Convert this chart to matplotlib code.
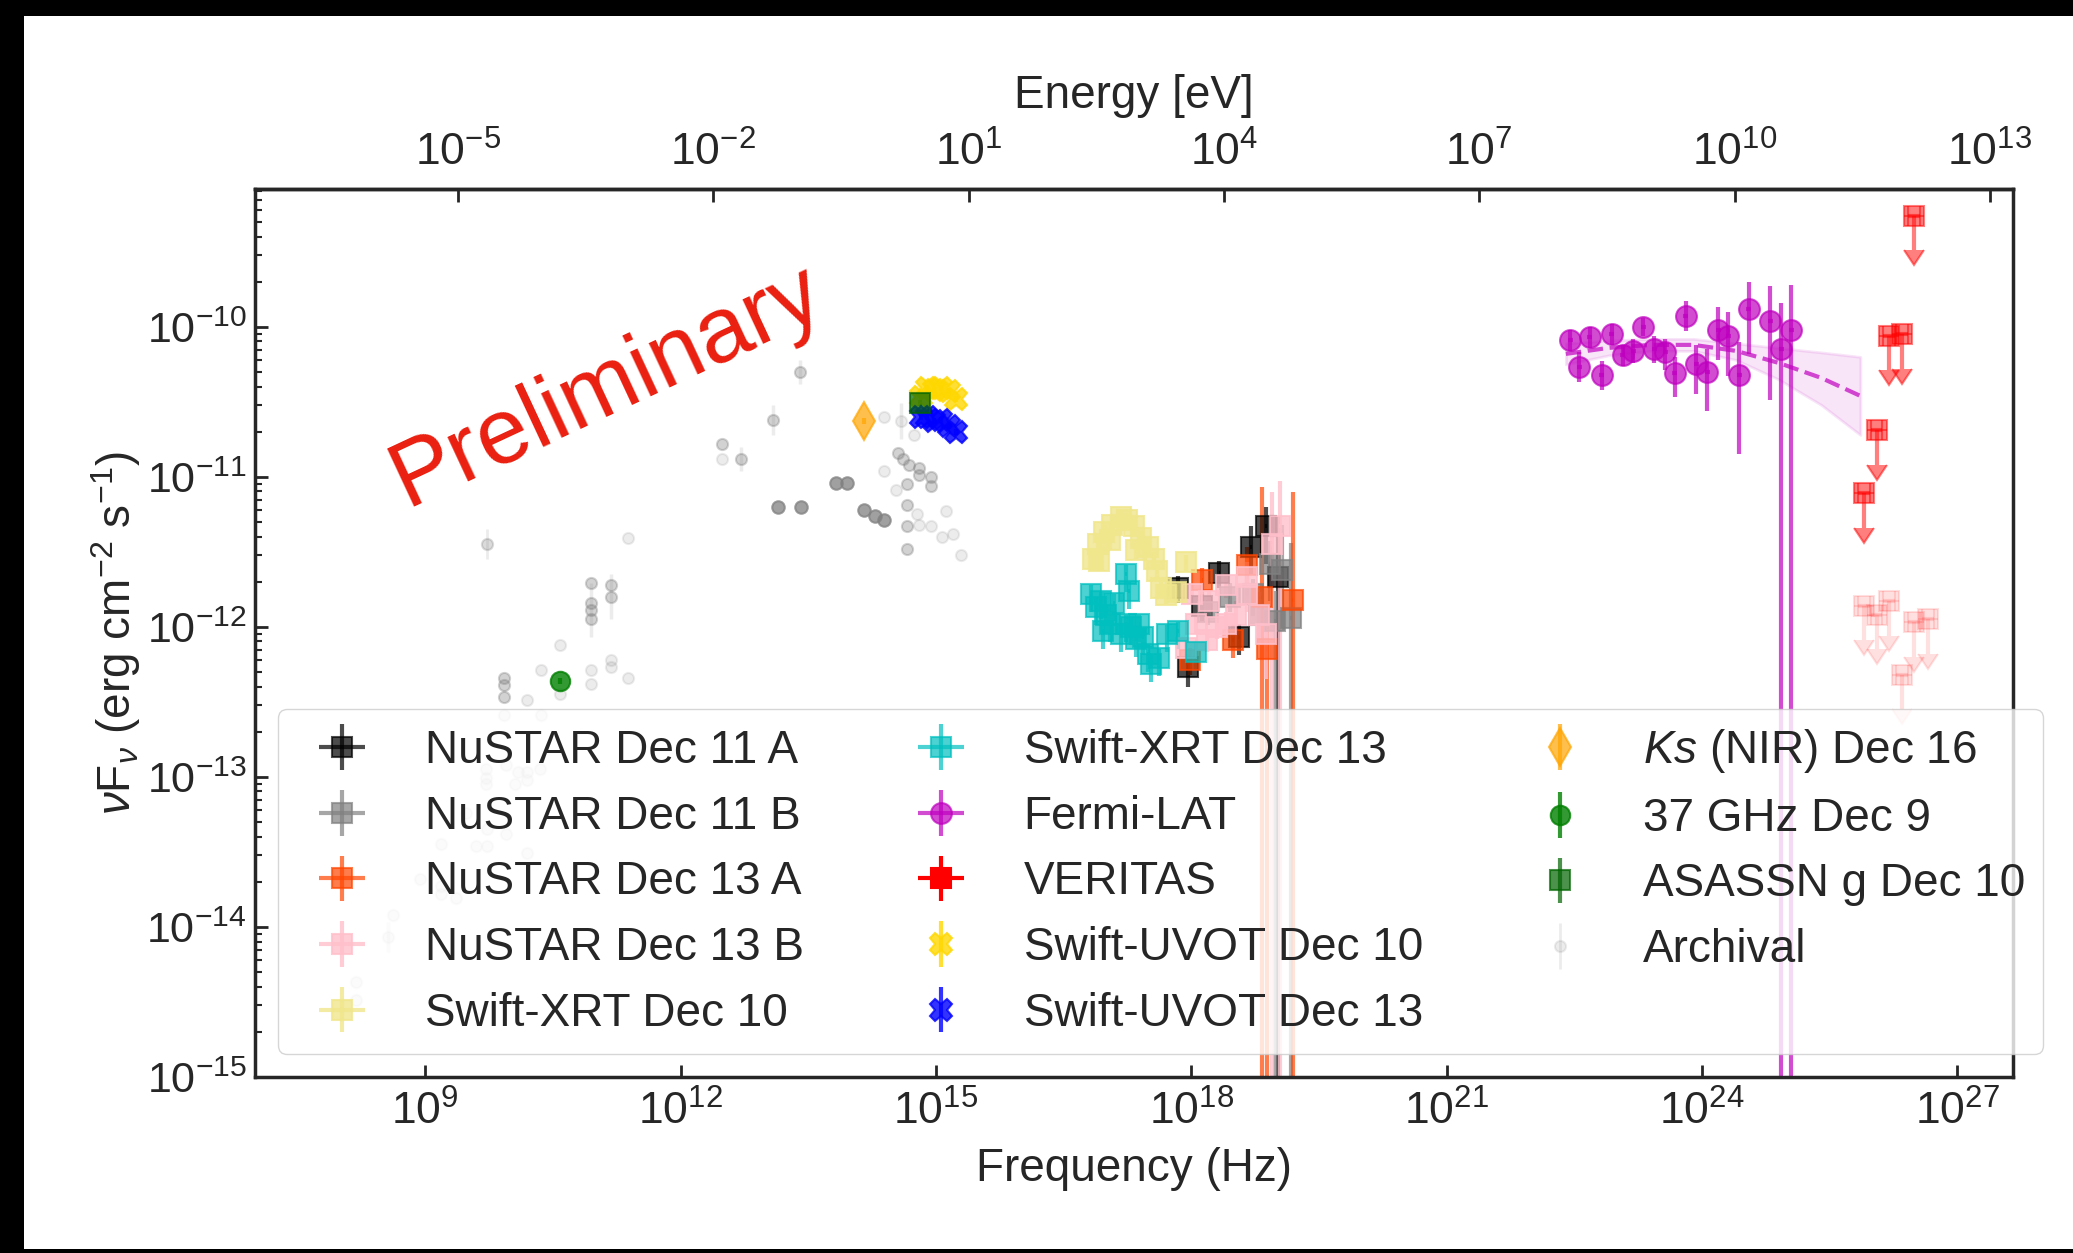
import numpy as np
import matplotlib.pyplot as plt
from matplotlib.patches import Rectangle
from matplotlib.ticker import NullLocator, LogLocator

plt.rcParams['font.family'] = ['Liberation Sans', 'DejaVu Sans']
plt.rcParams['mathtext.fontset'] = 'custom'
plt.rcParams['mathtext.rm'] = 'Liberation Sans'
plt.rcParams['mathtext.it'] = 'Liberation Sans:italic'
plt.rcParams['mathtext.bf'] = 'Liberation Sans:bold'
for k in ['text.color', 'axes.labelcolor', 'xtick.color', 'ytick.color']:
    plt.rcParams[k] = '0.15'

H_EV = 4.135667e-15  # eV s

# all values are log10(nu / Hz) and log10(nuFnu / erg cm-2 s-1); errors in dex
nu11a_lx = [17.84, 17.96, 18.13, 18.33, 18.56, 18.70, 18.88, 19.02]
nu11a_ly = [-11.74, -12.27, -11.86, -11.64, -12.07, -11.47, -11.33, -11.67]
nu11a_up = [0.08, 0.09, 0.08, 0.08, 0.09, 0.14, 0.13, 0.40]
nu11a_lo = [0.10, 0.13, 0.10, 0.10, 0.12, 0.18, 0.25, 5]

nu11b_lx = [18.20, 18.45, 18.72, 18.80, 18.92, 18.98, 19.07, 19.17]
nu11b_ly = [-11.90, -11.80, -11.78, -11.92, -11.58, -11.96, -11.62, -11.94]
nu11b_up = [0.08, 0.09, 0.10, 0.12, 0.15, 0.20, 0.30, 0.50]
nu11b_lo = [0.09, 0.10, 0.15, 0.20, 0.25, 5, 0.40, 5]

nu13a_lx = [17.98, 18.13, 18.49, 18.66, 18.83, 18.89, 19.19]
nu13a_ly = [-12.22, -11.69, -12.09, -11.59, -11.80, -12.15, -11.82]
nu13a_up = [0.08, 0.08, 0.10, 0.12, 0.73, 0.30, 0.72]
nu13a_lo = [0.10, 0.10, 0.12, 0.15, 5, 5, 5]

nu13b_lx = [17.94, 18.01, 18.06, 18.18, 18.21, 18.30, 18.41, 18.41, 18.53,
            18.65, 18.65, 18.80, 18.88, 18.95, 19.04]
nu13b_ly = [-12.14, -11.78, -11.98, -12.09, -11.83, -12.00, -11.72, -11.98, -11.92,
            -11.67, -11.78, -11.92, -12.05, -11.45, -11.33]
nu13b_up = [0.06, 0.06, 0.06, 0.07, 0.07, 0.07, 0.08, 0.08, 0.09,
            0.10, 0.10, 0.15, 0.20, 0.35, 0.30]
nu13b_lo = [0.07, 0.07, 0.07, 0.08, 0.08, 0.08, 0.09, 0.09, 0.10,
            0.12, 0.12, 0.20, 0.30, 5, 5]

xrt10_lx = [16.84, 16.90, 16.92, 16.98, 17.04, 17.07, 17.17, 17.25, 17.33, 17.35,
            17.41, 17.49, 17.56, 17.60, 17.64, 17.70, 17.82, 17.94]
xrt10_ly = [-11.55, -11.45, -11.56, -11.37, -11.42, -11.32, -11.27, -11.29, -11.33, -11.49,
            -11.41, -11.47, -11.55, -11.63, -11.74, -11.79, -11.77, -11.57]

xrt13_lx = [16.82, 16.88, 16.94, 16.96, 17.00, 17.04, 17.09, 17.17, 17.23, 17.23, 17.27,
            17.29, 17.35, 17.39, 17.43, 17.49, 17.53, 17.62, 17.72, 17.84, 18.06]
xrt13_ly = [-11.78, -11.87, -11.83, -12.03, -11.92, -11.98, -11.84, -12.05, -11.65, -11.98, -11.76,
            -12.00, -12.08, -11.98, -12.07, -12.18, -12.25, -12.21, -12.05, -12.03, -12.17]

fermi_lx = [22.45, 22.56, 22.68, 22.82, 22.94, 23.07, 23.19, 23.31, 23.44, 23.57, 23.68,
            23.81, 23.93, 24.06, 24.19, 24.31, 24.44, 24.55, 24.80, 24.93, 25.05]
fermi_ly = [-10.09, -10.27, -10.07, -10.32, -10.05, -10.19, -10.16, -10.00, -10.15, -10.17, -10.31,
            -9.93, -10.25, -10.30, -10.02, -10.06, -10.32, -9.88, -9.96, -10.15, -10.02]
fermi_up = [0.07, 0.10, 0.07, 0.09, 0.07, 0.07, 0.08, 0.06, 0.09, 0.09, 0.11,
            0.10, 0.13, 0.15, 0.15, 0.16, 0.22, 0.18, 0.23, 0.31, 0.30]
fermi_lo = [0.07, 0.10, 0.07, 0.10, 0.07, 0.07, 0.08, 0.06, 0.09, 0.12, 0.16,
            0.10, 0.20, 0.26, 0.20, 0.27, 0.53, 0.30, 0.53, 6, 6]

fit_lx = [22.40, 22.90, 23.40, 23.90, 24.40, 24.90, 25.40, 25.86]
fit_ly = [-10.18, -10.14, -10.12, -10.12, -10.16, -10.24, -10.34, -10.46]
fit_lo = [-10.25, -10.19, -10.16, -10.16, -10.22, -10.35, -10.52, -10.72]
fit_hi = [-10.11, -10.09, -10.08, -10.08, -10.11, -10.14, -10.17, -10.20]

ver_lx = [25.90, 26.05, 26.20, 26.35, 26.49]
ver_ly = [-11.11, -10.69, -10.06, -10.05, -9.26]
ver_old_lx = [25.90, 26.05, 26.20, 26.35, 26.49, 26.66]
ver_old_ly = [-11.86, -11.92, -11.83, -12.32, -11.97, -11.95]

uvot10_lx = [14.82, 14.90, 14.98, 15.06, 15.15, 15.24]
uvot10_ly = [-10.47, -10.41, -10.42, -10.41, -10.43, -10.48]
uvot13_lx = [14.82, 14.90, 14.98, 15.06, 15.15, 15.24]
uvot13_ly = [-10.60, -10.60, -10.63, -10.62, -10.66, -10.70]

ks_lx, ks_ly = [14.15], [-10.63]
ghz_lx, ghz_ly = [10.58], [-12.36]
asas_lx, asas_ly = [14.81], [-10.51]

arch_lx = [9.72, 11.38, 10.58, 10.36, 10.95, 11.18, 11.18, 10.95, 11.38, 10.19, 10.58,
           9.93, 10.36, 9.71, 9.71, 9.71, 9.95, 10.09, 10.19, 10.19, 10.35, 10.06,
           9.48, 9.72, 9.95, 9.18, 9.60, 9.72, 10.19, 8.94, 9.18, 9.36, 9.18, 8.62,
           8.56, 8.19, 8.19, 14.39, 14.39, 14.59, 14.74, 15.12, 15.07, 15.20, 15.29,
           14.53, 14.78, 14.80, 14.94, 12.49]
arch_ly = [-11.45, -11.41, -12.12, -12.29, -12.29, -12.22, -12.27, -12.38, -12.34, -12.49, -12.45,
           -12.59, -12.59, -12.95, -13.01, -13.05, -12.92, -12.97, -12.97, -13.02, -12.95, -13.05,
           -13.24, -13.35, -13.38, -13.45, -13.46, -13.46, -13.51, -13.68, -13.78, -13.81, -13.73, -13.92,
           -14.07, -14.37, -14.49, -10.96, -10.60, -10.63, -10.72, -11.23, -11.40, -11.38, -11.52,
           -11.09, -11.25, -11.32, -11.33, -10.88]
arch_mid_lx = [13.40, 13.09, 12.49, 12.71, 14.55, 14.61, 14.68, 14.80, 14.80, 14.94, 14.94,
               14.66, 14.66, 14.66, 14.66, 10.95, 10.95, 10.95, 11.18, 11.18, 9.93, 9.93,
               9.93, 10.95]
arch_mid_ly = [-10.30, -10.62, -10.78, -10.88, -10.84, -10.88, -10.92, -10.94, -10.99, -11.00, -11.06,
               -11.05, -11.19, -11.33, -11.48, -11.84, -11.89, -11.95, -11.72, -11.80, -12.34, -12.39,
               -12.47, -11.71]
arch_dark_lx = [13.15, 13.42, 13.82, 13.96, 14.15, 14.28, 14.39]
arch_dark_ly = [-11.20, -11.20, -11.04, -11.04, -11.22, -11.26, -11.29]
# the few archival points with visible error bars
arch_bar_lx = [13.40, 13.09, 12.71, 10.95, 11.18, 8.56, 14.59]
arch_bar_ly = [-10.30, -10.62, -10.88, -11.89, -11.80, -14.07, -10.63]
arch_bar_dy = [0.08, 0.10, 0.08, 0.18, 0.15, 0.10, 0.12]

labels = ['NuSTAR Dec 11 A', 'NuSTAR Dec 11 B', 'NuSTAR Dec 13 A', 'NuSTAR Dec 13 B',
          'Swift-XRT Dec 10', 'Swift-XRT Dec 13', 'Fermi-LAT', 'VERITAS',
          'Swift-UVOT Dec 10', 'Swift-UVOT Dec 13', r'$Ks$ (NIR) Dec 16',
          '37 GHz Dec 9', 'ASASSN g Dec 10', 'Archival']

W, H = 2073, 1253
fig = plt.figure(figsize=(W / 100, H / 100), dpi=100)
fig.patch.set_facecolor('black')
fig.add_artist(Rectangle((24 / W, 4 / H), (W - 24) / W, (H - 20) / H,
                         transform=fig.transFigure, facecolor='white',
                         edgecolor='none', zorder=-100))
fig.subplots_adjust(left=255 / W, right=2013 / W, bottom=176 / H, top=1064 / H)
ax = fig.add_subplot(111)
ax.set_xscale('log')
ax.set_yscale('log')


def eb(lx, ly, up=0.0, lo=0.0, xe=None, **kw):
    lx = np.asarray(lx, float)
    ly = np.asarray(ly, float)
    up = np.broadcast_to(np.asarray(up, float), ly.shape)
    lo = np.broadcast_to(np.asarray(lo, float), ly.shape)
    x, y = 10 ** lx, 10 ** ly
    yerr = [y - 10 ** (ly - lo), 10 ** (ly + up) - y]
    xerr = None
    if xe is not None:
        xerr = [x - 10 ** (lx - xe), 10 ** (lx + xe) - x]
    return ax.errorbar(x, y, xerr=xerr, yerr=yerr, linestyle='none', **kw)


sq = dict(marker='s', ms=14, mew=1.5, elinewidth=3, alpha=0.7)
h = []
# archival
h_arch = eb(arch_lx, arch_ly, 0.0, 0.0, marker='o', ms=8, mew=1.5, color='gray',
            elinewidth=2, alpha=0.15)
eb(arch_bar_lx, arch_bar_ly, arch_bar_dy, arch_bar_dy, marker='none', color='gray',
   elinewidth=2.5, alpha=0.15)
eb(arch_mid_lx, arch_mid_ly, 0.0, 0.0, marker='o', ms=8, mew=1.5, color='gray',
   elinewidth=2, alpha=0.35)
eb(arch_dark_lx, arch_dark_ly, 0.0, 0.0, marker='o', ms=9, mew=1.5, color='gray',
   elinewidth=2, alpha=0.75)

h.append(eb(nu11a_lx, nu11a_ly, nu11a_up, nu11a_lo, 0.01, color='black', **sq))
h.append(eb(nu11b_lx, nu11b_ly, nu11b_up, nu11b_lo, 0.01, color='gray', **sq))
h.append(eb(nu13a_lx, nu13a_ly, nu13a_up, nu13a_lo, 0.01, color='orangered', **sq))
h.append(eb(nu13b_lx, nu13b_ly, nu13b_up, nu13b_lo, 0.01, color='pink',
            marker='s', ms=14, mew=1.5, elinewidth=3, alpha=0.8))
h.append(eb(xrt10_lx, xrt10_ly, 0.05, 0.06, 0.01, color='khaki',
            marker='s', ms=14, mew=1.5, elinewidth=3, alpha=0.8))
h.append(eb(xrt13_lx, xrt13_ly, 0.06, 0.12, 0.01, color='c', **sq))

# Fermi-LAT fit band
ax.fill_between(10 ** np.array(fit_lx), 10 ** np.array(fit_lo), 10 ** np.array(fit_hi),
                color='m', alpha=0.1, lw=2)
ax.plot(10 ** np.array(fit_lx), 10 ** np.array(fit_ly), '--', color='m', lw=3, alpha=0.7)
h.append(eb(fermi_lx, fermi_ly, fermi_up, fermi_lo, 0.03, color='m', marker='o',
            ms=15, mew=1.5, elinewidth=3, alpha=0.7))

# VERITAS upper limits
vx = 10 ** np.array(ver_lx)
vy = 10 ** np.array(ver_ly)
ax.errorbar(vx, vy, yerr=vy - vy * 10 ** -0.23,
            xerr=[vx - vx * 10 ** -0.07, vx * 10 ** 0.07 - vx], uplims=True,
            linestyle='none', marker='s', ms=14, mew=1.5, color='red',
            elinewidth=3, capsize=7, alpha=0.5)
ox = 10 ** np.array(ver_old_lx)
oy = 10 ** np.array(ver_old_ly)
ax.errorbar(ox, oy, yerr=oy - oy * 10 ** -0.23,
            xerr=[ox - ox * 10 ** -0.07, ox * 10 ** 0.07 - ox], uplims=True,
            linestyle='none', marker='s', ms=14, mew=1.5, color='red',
            elinewidth=3, capsize=7, alpha=0.12)
# legend proxy for VERITAS (drawn opaque in the legend)
h.append(ax.errorbar([np.nan], [np.nan], xerr=[1.0], yerr=[1.0], linestyle='none',
                     marker='s', ms=14, mew=1.5, color='red', elinewidth=3))

h.append(eb(uvot10_lx, uvot10_ly, 0.02, 0.02, marker='X', ms=16, mew=1.5,
            color='gold', elinewidth=3, alpha=0.8))
h.append(eb(uvot13_lx, uvot13_ly, 0.02, 0.02, marker='X', ms=16, mew=1.5,
            color='blue', elinewidth=3, alpha=0.8))
h.append(eb(ks_lx, ks_ly, 0.02, 0.02, marker='d', ms=19, mew=1.5,
            color='orange', elinewidth=3, alpha=0.7))
h.append(eb(ghz_lx, ghz_ly, 0.02, 0.02, marker='o', ms=14, mew=1.5,
            color='green', elinewidth=3, alpha=0.8))
h.append(eb(asas_lx, asas_ly, 0.02, 0.02, marker='s', ms=14, mew=1.5,
            color='darkgreen', elinewidth=3, alpha=0.7))
h.append(eb(arch_lx[:1], arch_ly[:1], 0.1, 0.1, marker='o', ms=8, mew=1.5,
            color='gray', elinewidth=2, alpha=0.15))

ax.set_xlim(1e7, 4.5e27)
ax.set_ylim(1e-15, 8.3e-10)

ax.set_xticks([1e9, 1e12, 1e15, 1e18, 1e21, 1e24, 1e27])
ax.xaxis.set_minor_locator(NullLocator())
ax.set_yticks([1e-15, 1e-14, 1e-13, 1e-12, 1e-11, 1e-10])
ax.yaxis.set_minor_locator(LogLocator(base=10, subs=np.arange(2, 10), numticks=50))
ax.tick_params(which='both', direction='in', top=False, right=False)
ax.tick_params(axis='x', which='major', length=9, width=2, pad=10, labelsize=32)
ax.tick_params(axis='y', which='major', length=9, width=2, pad=6, labelsize=31)
ax.tick_params(which='minor', length=5, width=1.5)
for s in ax.spines.values():
    s.set_linewidth(2.5)
    s.set_color('0.15')

secax = ax.secondary_xaxis('top', functions=(lambda x: x * H_EV, lambda e: e / H_EV))
secax.set_xticks([1e-5, 1e-2, 1e1, 1e4, 1e7, 1e10, 1e13])
secax.xaxis.set_minor_locator(NullLocator())
secax.tick_params(which='major', direction='in', length=9, width=2, pad=10, labelsize=32)
secax.spines['top'].set_linewidth(2.5)
secax.spines['top'].set_color('0.15')
secax.set_xlabel('Energy [eV]', fontsize=33)
secax.xaxis.set_label_coords(0.5, 1.105, transform=ax.transAxes)
secax.xaxis.label.set_verticalalignment('center')

ax.set_xlabel('Frequency (Hz)', fontsize=33)
ax.xaxis.set_label_coords(0.5, -0.1036)
ax.xaxis.label.set_verticalalignment('center')
ax.set_ylabel(r'$\nu$F$_{\nu}$ (erg cm$^{-2}$ s$^{-1}$)', fontsize=33)
ax.yaxis.set_label_coords(-0.0791, 0.5)
ax.yaxis.label.set_verticalalignment('center')

ax.text(0.086, 0.642, 'Preliminary', transform=ax.transAxes, rotation=25,
        rotation_mode='anchor', ha='left', va='baseline', fontsize=67,
        color='#ea1f10')

leg = ax.legend(h, labels, ncol=3, fontsize=33, loc='lower left',
                bbox_to_anchor=(0.013, 0.026), borderaxespad=0,
                columnspacing=2.0, labelspacing=0.47, frameon=True, fancybox=True,
                framealpha=0.8, edgecolor='0.8')

fig.savefig('out.png', dpi=100)
